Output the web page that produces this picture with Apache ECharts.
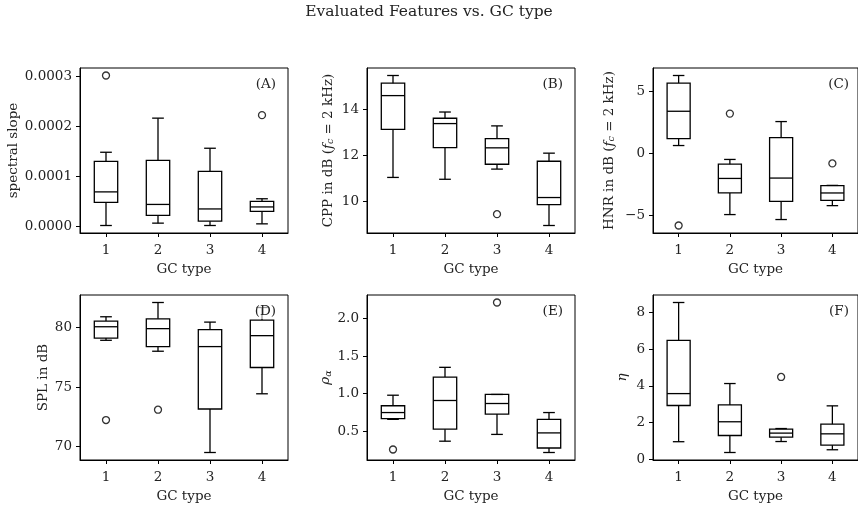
<!DOCTYPE html>
<html>
<head>
<meta charset="utf-8">
<title>Evaluated Features vs. GC type</title>
<script src="https://cdn.jsdelivr.net/npm/echarts@6/dist/echarts.min.js"></script>
<style>
    html, body { margin: 0; padding: 0; background: #fff; }
    #featureChart { width: 858px; height: 512px; }
</style>
</head>
<body>
<div id="featureChart"></div>
<script>
var categories = ['1', '2', '3', '4'];

// one row per GC type: [lower whisker, Q1, median, Q3, upper whisker]
var slopeBoxes = [
    [0.000002, 0.000048, 0.000069, 0.000130, 0.000148],
    [0.0000067, 0.000022, 0.000044, 0.000132, 0.000216],
    [0.000002, 0.0000107, 0.000035, 0.000110, 0.000156],
    [0.0000053, 0.000030, 0.000039, 0.000050, 0.0000553]
];
var slopeOutliers = [[0, 0.000301], [3, 0.000222]];
var slopeTicks = [0, 0.0001, 0.0002, 0.0003];

var cppBoxes = [
    [11.04, 13.12, 14.58, 15.12, 15.45],
    [10.96, 12.33, 13.37, 13.60, 13.87],
    [11.40, 11.61, 12.32, 12.72, 13.27],
    [8.96, 9.86, 10.17, 11.74, 12.09]
];
var cppOutliers = [[2, 9.45]];
var cppTicks = [10, 12, 14];

var hnrBoxes = [
    [0.64, 1.20, 3.40, 5.67, 6.28],
    [-4.92, -3.18, -2.01, -0.86, -0.48],
    [-5.32, -3.85, -1.98, 1.28, 2.57],
    [-4.20, -3.77, -3.18, -2.59, -2.57]
];
var hnrOutliers = [[0, -5.80], [1, 3.21], [3, -0.80]];
var hnrTicks = [-5, 0, 5];

var splBoxes = [
    [78.94, 79.13, 80.08, 80.56, 80.92],
    [78.02, 78.41, 79.92, 80.75, 82.12],
    [69.50, 73.16, 78.41, 79.83, 80.47],
    [74.44, 76.65, 79.33, 80.64, 81.70]
];
var splOutliers = [[0, 72.23], [1, 73.10]];
var splTicks = [70, 75, 80];

var rhoBoxes = [
    [0.66, 0.67, 0.75, 0.84, 0.98],
    [0.37, 0.53, 0.91, 1.22, 1.35],
    [0.46, 0.73, 0.87, 0.99, 0.99],
    [0.22, 0.28, 0.48, 0.66, 0.75]
];
var rhoOutliers = [[0, 0.26], [2, 2.21]];
var rhoTicks = [0.5, 1.0, 1.5, 2.0];

var etaBoxes = [
    [0.95, 2.93, 3.58, 6.49, 8.56],
    [0.36, 1.29, 2.04, 2.96, 4.13],
    [0.96, 1.20, 1.42, 1.64, 1.67],
    [0.51, 0.76, 1.38, 1.91, 2.91]
];
var etaOutliers = [[2, 4.49]];
var etaTicks = [0, 2, 4, 6, 8];

var FONT = '"DejaVu Serif", "Liberation Serif", serif';
var FONT_SIZE = 13.5;
var TEXT_COLOR = '#222';

var panels = [
    {boxes: slopeBoxes, outliers: slopeOutliers, ticks: slopeTicks, digits: 4, tag: '(A)',
        name: 'spectral slope', nameGap: 57},
    {boxes: cppBoxes, outliers: cppOutliers, ticks: cppTicks, digits: 0, tag: '(B)',
        name: 'CPP in dB ({i|f}{s|c} = 2 kHz)', nameGap: 31},
    {boxes: hnrBoxes, outliers: hnrOutliers, ticks: hnrTicks, digits: 0, tag: '(C)',
        name: 'HNR in dB ({i|f}{s|c} = 2 kHz)', nameGap: 36},
    {boxes: splBoxes, outliers: splOutliers, ticks: splTicks, digits: 0, tag: '(D)',
        name: 'SPL in dB', nameGap: 30},
    {boxes: rhoBoxes, outliers: rhoOutliers, ticks: rhoTicks, digits: 1, tag: '(E)',
        name: '{i|ρ}{s|α}', nameGap: 32},
    {boxes: etaBoxes, outliers: etaOutliers, ticks: etaTicks, digits: 0, tag: '(F)',
        name: '{i|η}', nameGap: 24}
];

var gridLefts = [80, 367, 653];
var gridTops = [68, 295];
var gridWidth = 208;
var gridHeight = 165;

function lineEl(x1, y1, x2, y2) {
    return {
        type: 'line',
        shape: {x1: x1, y1: y1, x2: x2, y2: y2},
        style: {stroke: '#000', lineWidth: 1.3}
    };
}

// matplotlib style box: open rect, median, whiskers with half width caps
function renderBox(params, api) {
    var idx = api.value(0);
    var w = api.size([1, 0])[0] * 0.45;
    var low = api.coord([idx, api.value(1)]);
    var q1 = api.coord([idx, api.value(2)]);
    var med = api.coord([idx, api.value(3)]);
    var q3 = api.coord([idx, api.value(4)]);
    var high = api.coord([idx, api.value(5)]);
    var cx = low[0];
    return {
        type: 'group',
        children: [
            lineEl(cx, q1[1], cx, low[1]),
            lineEl(cx, q3[1], cx, high[1]),
            lineEl(cx - w / 4, low[1], cx + w / 4, low[1]),
            lineEl(cx - w / 4, high[1], cx + w / 4, high[1]),
            {
                type: 'rect',
                shape: {x: cx - w / 2, y: q3[1], width: w, height: q1[1] - q3[1]},
                style: {stroke: '#000', lineWidth: 1.3, fill: 'rgba(0,0,0,0)'}
            },
            lineEl(cx - w / 2, med[1], cx + w / 2, med[1])
        ]
    };
}

function tickFormatter(digits) {
    return function (v) {
        return v.toFixed(digits).replace('-', '\u2212');
    };
}

var richStyles = {
    i: {fontFamily: FONT, fontSize: FONT_SIZE, fontStyle: 'italic', color: TEXT_COLOR},
    s: {fontFamily: FONT, fontSize: 9.5, fontStyle: 'italic', color: TEXT_COLOR, verticalAlign: 'bottom', padding: [6, 0, 0, 0]}
};

var grids = [], xAxes = [], yAxes = [], series = [], graphics = [];

panels.forEach(function (p, i) {
    var left = gridLefts[i % 3];
    var top = gridTops[Math.floor(i / 3)];

    grids.push({
        left: left, top: top, width: gridWidth, height: gridHeight,
        show: true, borderColor: '#000', borderWidth: 1, backgroundColor: 'transparent'
    });

    xAxes.push({
        gridIndex: i,
        type: 'category',
        data: categories,
        boundaryGap: true,
        name: 'GC type',
        nameLocation: 'middle',
        nameGap: 29,
        nameTextStyle: {fontFamily: FONT, fontSize: FONT_SIZE, color: TEXT_COLOR},
        axisLine: {show: true, onZero: false, lineStyle: {color: '#000', width: 1}},
        axisTick: {show: true, alignWithLabel: true, length: 4, lineStyle: {color: '#000'}},
        axisLabel: {margin: 10, fontFamily: FONT, fontSize: FONT_SIZE, color: TEXT_COLOR},
        splitLine: {show: false}
    });

    yAxes.push({
        gridIndex: i,
        type: 'value',
        scale: true,
        min: function (ext) { return ext.min - (ext.max - ext.min) * 0.05; },
        max: function (ext) { return ext.max + (ext.max - ext.min) * 0.05; },
        name: p.name,
        nameLocation: 'middle',
        nameRotate: 90,
        nameGap: p.nameGap,
        nameTextStyle: {fontFamily: FONT, fontSize: FONT_SIZE, color: TEXT_COLOR, rich: richStyles},
        axisLine: {show: true, onZero: false, lineStyle: {color: '#000', width: 1}},
        axisTick: {show: true, length: 4, customValues: p.ticks, lineStyle: {color: '#000'}},
        axisLabel: {
            customValues: p.ticks,
            formatter: tickFormatter(p.digits),
            margin: 8,
            fontFamily: FONT, fontSize: FONT_SIZE, color: TEXT_COLOR
        },
        splitLine: {show: false}
    });

    series.push({
        type: 'custom',
        xAxisIndex: i,
        yAxisIndex: i,
        renderItem: renderBox,
        encode: {x: 0, y: [1, 2, 3, 4, 5]},
        data: p.boxes.map(function (b, k) { return [k].concat(b); }),
        z: 2
    });
    series.push({
        type: 'scatter',
        xAxisIndex: i,
        yAxisIndex: i,
        symbol: 'circle',
        symbolSize: 7,
        itemStyle: {color: 'rgba(0,0,0,0)', borderColor: '#000', borderWidth: 1.3},
        data: p.outliers,
        z: 3
    });

    graphics.push({
        type: 'text',
        x: left + gridWidth - 10,
        y: top + 16,
        z: 100,
        style: {
            text: p.tag,
            align: 'right',
            verticalAlign: 'middle',
            font: FONT_SIZE + 'px ' + FONT,
            fill: TEXT_COLOR,
            backgroundColor: 'rgba(255,255,255,0.6)',
            padding: [1, 2]
        }
    });
});

var featureChart = echarts.init(document.getElementById('featureChart'));
featureChart.setOption({
    animation: false,
    backgroundColor: '#fff',
    title: {
        text: 'Evaluated Features vs. GC type',
        left: 'center',
        top: -1,
        textStyle: {fontFamily: FONT, fontSize: 15.5, fontWeight: 'normal', color: TEXT_COLOR}
    },
    grid: grids,
    xAxis: xAxes,
    yAxis: yAxes,
    series: series,
    graphic: graphics
});
</script>
</body>
</html>
